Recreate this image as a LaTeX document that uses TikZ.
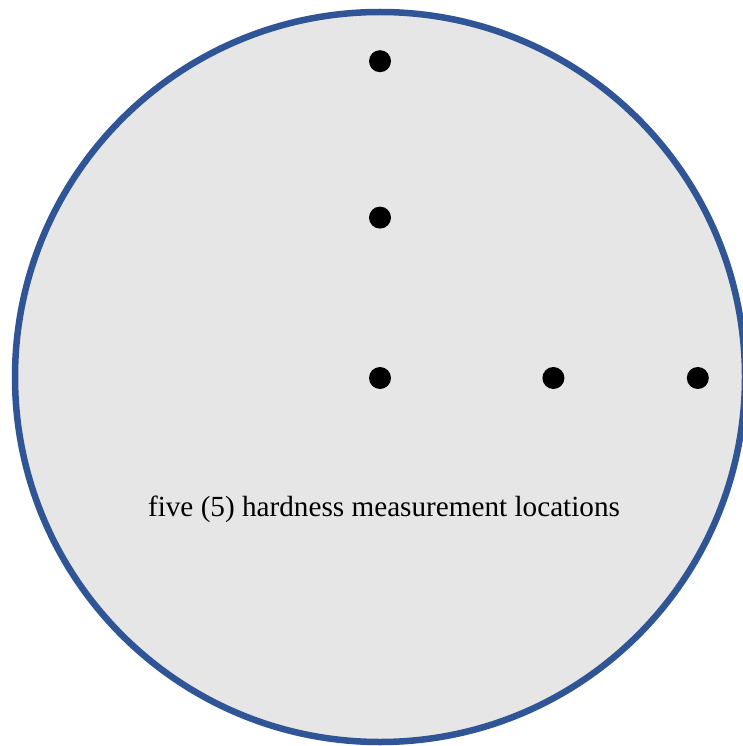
\documentclass[tikz,border=0pt]{standalone}
\usepackage{fontspec}
\setmainfont{Liberation Serif}
\definecolor{DiskBlue}{RGB}{47, 85, 151}
\definecolor{DiskGray}{RGB}{230, 230, 230}
\usetikzlibrary{positioning}

\begin{document}
\begin{tikzpicture}[
  x=1pt, y=-1pt,
  disk/.style={circle, draw=DiskBlue, line width=6.5pt, fill=DiskGray, minimum size=730pt, inner sep=0pt},
  spot/.style={circle, fill=black, minimum size=22pt, inner sep=0pt},
  label/.style={font=\fontsize{29.2}{34}\selectfont, text=black}
]
\useasboundingbox (0,0) rectangle (743,746);
\node[disk] (specimen) at (380,377) {};

\node[spot] (center) at (380,378) {};
\node[spot, above=138pt of center] (mid) {};
\node[spot, above=134pt of mid] (top) {};
\node[spot, right=151pt of center] (right) {};
\node[spot, right=122pt of right] (edge) {};

\node[label] (caption) at (384,509) {five (5) hardness measurement locations};
\end{tikzpicture}
\end{document}
